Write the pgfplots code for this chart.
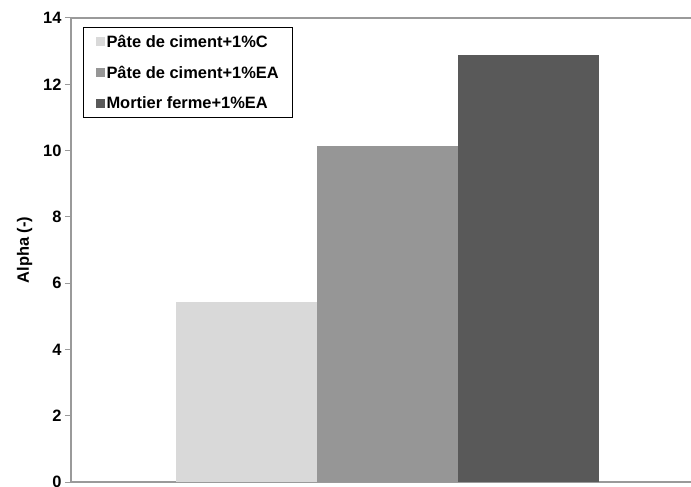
\documentclass[border=0pt]{standalone}
\usepackage{fontspec}
\setmainfont{Liberation Sans}
\usepackage{pgfplots}
\pgfplotsset{compat=1.18}
\usetikzlibrary{calc}
\definecolor{cA}{HTML}{D9D9D9}
\definecolor{cB}{HTML}{969696}
\definecolor{cC}{HTML}{595959}
\definecolor{axc}{HTML}{9A9A9A}
\begin{document}
\begin{tikzpicture}
\begin{axis}[
  scale only axis, width=620bp, height=464bp,
  xmin=-0.251, xmax=4.156, ymin=0, ymax=14,
  axis x line=bottom, axis y line=left,
  axis line style={-, draw=axc, line width=1.2pt},
  xtick=\empty,
  ytick={0,2,4,6,8,10,12},
  extra y ticks={14},
  extra y tick style={grid=major, major grid style={draw=axc, line width=1.2pt}},
  tick style={draw=axc, line width=1pt},
  major tick length=6bp, tick align=outside,
  /pgf/number format/assume math mode=true,
  ticklabel style={font=\fontsize{16.5}{19}\selectfont\bfseries},
  ylabel={Alpha (-)},
  ylabel style={font=\fontsize{16.5}{19}\selectfont\bfseries},
  ylabel shift=-8bp,
  bar width=1.003,
  legend style={at={(0.0194,0.9806)}, anchor=north west, draw=black, line width=1pt,
    font=\fontsize{16.5}{19}\selectfont\bfseries, row sep=13bp, inner xsep=12bp, inner ysep=5.5bp,
    cells={anchor=west}},
  legend image code/.code={\fill[#1] (0bp,-4.5bp) rectangle (9bp,4.5bp);},
]
\addplot[ybar, fill=cA, draw=none] coordinates {(1,5.43)};
\addplot[ybar, fill=cB, draw=none] coordinates {(2,10.14)};
\addplot[ybar, fill=cC, draw=none] coordinates {(3,12.88)};
\legend{Pâte de ciment+1\%C\hspace{10bp}, Pâte de ciment+1\%EA, Mortier ferme+1\%EA}
\coordinate (SW) at (rel axis cs:0,0);
\coordinate (NE) at (rel axis cs:1,1);
\end{axis}
\pgfresetboundingbox
\path[use as bounding box] ($(SW)+(-71bp,-5bp)$) rectangle ($(NE)+(0bp,18bp)$);
\end{tikzpicture}
\end{document}
